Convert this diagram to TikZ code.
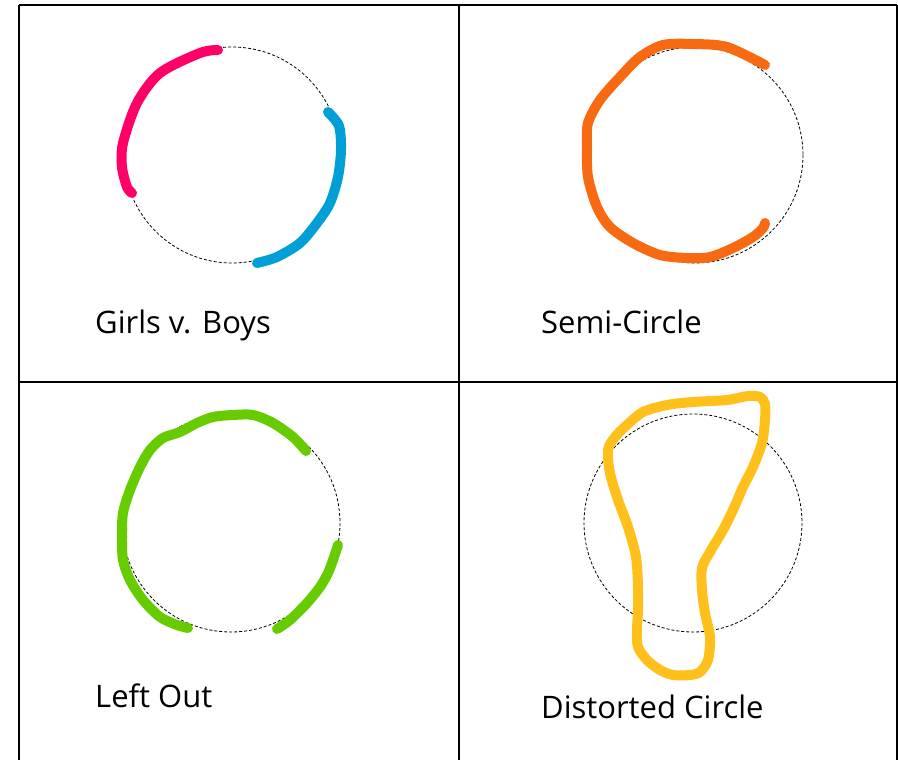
\documentclass[tikz,border=0pt]{standalone}
\usepackage{fontspec}
\setmainfont{Open Sans}

\definecolor{girlpink}{RGB}{255,0,102}
\definecolor{boyblue}{RGB}{0,159,214}
\definecolor{semiorange}{RGB}{247,106,18}
\definecolor{leftgreen}{RGB}{102,204,0}
\definecolor{distyellow}{RGB}{255,192,28}

\begin{document}
\begin{tikzpicture}[
  x=1pt, y=-1pt,
  grid/.style={line width=2pt, draw=black},
  guide/.style={draw=black, line width=0.8pt, dash pattern=on 3pt off 2pt},
  stroke/.style={line width=10pt, line cap=round, line join=round},
  caption/.style={anchor=base west, inner sep=0pt, font=\fontsize{31}{36}\selectfont}
]
\useasboundingbox (0,0) rectangle (898,760);

% table lines
\draw[grid] (19,5) -- (897,5);
\draw[grid] (19,382) -- (897,382);
\draw[grid] (19,5) -- (19,760);
\draw[grid] (459,5) -- (459,760);
\draw[grid] (897,5) -- (897,760);

% girls v. boys
\draw[guide] (232,155) circle (108);
\draw[stroke, girlpink] plot[smooth] coordinates {(218,50) (200,53) (160,73) (137,103) (123,143) (122,167) (127,187) (132,193)};
\draw[stroke, boyblue] plot[smooth] coordinates {(328,112) (339,126) (341,150) (338,177) (330,203) (317,223) (300,243) (277,257) (257,263)};
\node[caption] (girlsboys) at (95,333) {Girls v. Boys};

% semi-circle
\draw[guide] (695,155) circle (108);
\draw[stroke, semiorange] plot[smooth] coordinates {(765,65) (727,47) (693,44) (663,45) (640,57) (620,77) (600,100) (588,123) (587,147) (588,177) (597,207) (610,227) (633,243) (660,255) (687,258) (710,257) (733,248) (753,237) (763,228) (765,223)};
\node[caption] (semicircle) at (541,333) {Semi-Circle};

% left out
\draw[guide] (231,523) circle (109);
\draw[stroke, leftgreen] plot[smooth] coordinates {(306,451) (293,437) (273,423) (253,415) (233,415) (213,417) (197,423) (180,432) (163,438) (150,450) (140,467) (130,490) (123,513) (122,537) (123,560) (130,580) (143,600) (160,617) (177,625) (188,628)};
\draw[stroke, leftgreen] plot[smooth] coordinates {(338,545) (333,560) (328,573) (320,587) (307,603) (290,620) (277,629)};
\node[caption] (leftout) at (95,707) {Left Out};

% distorted circle
\draw[guide] (693,523) circle (109);
\draw[stroke, distyellow] plot[smooth cycle] coordinates {(748,396) (760,397) (765,404) (765,420) (762,443) (753,467) (743,487) (733,510) (723,530) (710,552) (702,568) (702,590) (705,613) (710,637) (708,660) (700,672) (690,675) (673,675) (660,670) (647,660) (638,647) (637,630) (638,610) (638,587) (636,557) (628,527) (618,500) (610,473) (608,450) (615,437) (627,425) (643,412) (667,405) (693,402) (727,400)};
\node[caption] (distorted) at (541,718) {Distorted Circle};

\end{tikzpicture}
\end{document}
